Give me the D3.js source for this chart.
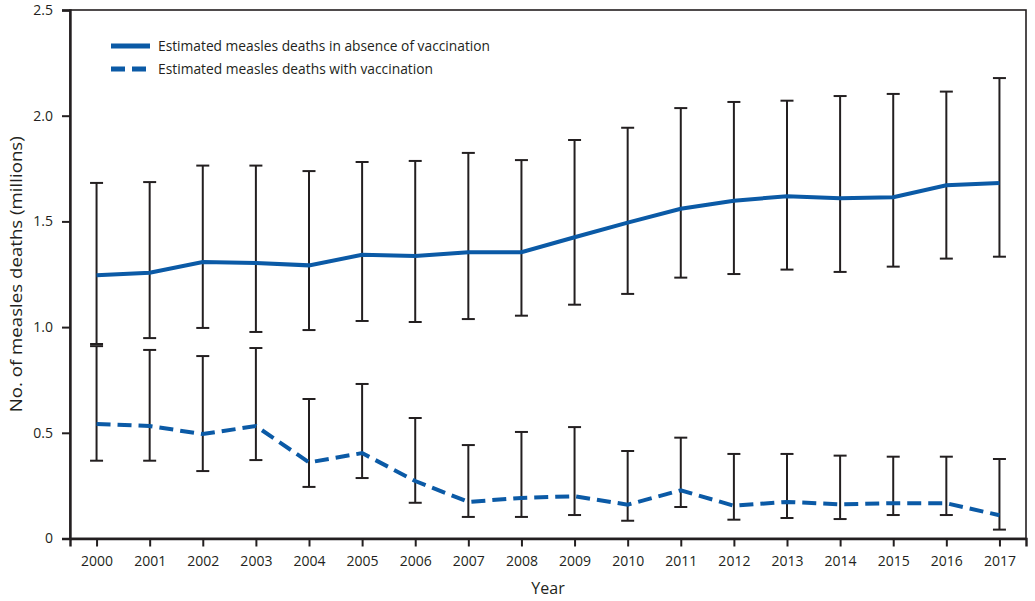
<!DOCTYPE html>
<html><head><meta charset="utf-8">
<script src="https://cdn.jsdelivr.net/npm/d3@7"></script>
<style>body{margin:0;background:#fff}svg{display:block}text{font-family:"Open Sans",sans-serif;fill:#231f20}</style>
</head><body><svg id="c" width="1035" height="601"></svg>
<script>
const years = [2000,2001,2002,2003,2004,2005,2006,2007,2008,2009,2010,2011,2012,2013,2014,2015,2016,2017];
const absence = [1.245,1.257,1.308,1.303,1.292,1.342,1.336,1.354,1.354,1.425,1.494,1.560,1.598,1.619,1.609,1.614,1.671,1.682];
const absenceHigh = [1.682,1.686,1.764,1.764,1.738,1.781,1.786,1.824,1.790,1.885,1.943,2.036,2.065,2.071,2.093,2.103,2.114,2.178];
const absenceLow = [0.920,0.948,0.996,0.977,0.986,1.029,1.024,1.038,1.054,1.106,1.157,1.234,1.251,1.272,1.261,1.286,1.324,1.333];
const withVacc = [0.542,0.532,0.494,0.532,0.360,0.404,0.272,0.173,0.192,0.200,0.160,0.228,0.155,0.173,0.162,0.167,0.167,0.110];
const withHigh = [0.910,0.892,0.863,0.901,0.660,0.731,0.570,0.442,0.504,0.527,0.414,0.477,0.400,0.400,0.392,0.387,0.387,0.376];
const withLow = [0.368,0.368,0.319,0.371,0.244,0.286,0.169,0.102,0.102,0.111,0.084,0.149,0.089,0.097,0.092,0.111,0.111,0.042];
const yTicks = [0,0.5,1.0,1.5,2.0,2.5];
const legendLabels = ["Estimated measles deaths in absence of vaccination","Estimated measles deaths with vaccination"];

const svg = d3.select("#c");
const L=70,R=1026,T=10,B=538.5;
const x = d3.scaleLinear().domain([1999.5,2017.5]).range([L,R]);
const y = d3.scaleLinear().domain([0,2.5]).range([B,T]);
const blue="#0b5aa6", ink="#231f20";

// frame
svg.append("rect").attr("x",L).attr("y",T).attr("width",R-L).attr("height",B-T)
  .attr("fill","none").attr("stroke",ink).attr("stroke-width",1.6);

// y axis
const ya = svg.append("g").attr("transform",`translate(${L},0)`)
  .call(d3.axisLeft(y).tickValues(yTicks).tickSize(8).tickPadding(9)
    .tickFormat(d=>d===0?"0":d3.format(".1f")(d)));
ya.select(".domain").attr("stroke",ink).attr("stroke-width",2.4);
ya.selectAll(".tick line").attr("stroke",ink).attr("stroke-width",2);
ya.selectAll("text").style("font-size","14px").attr("fill",ink).attr("font-family","Open Sans");

// x axis
const xa = svg.append("g").attr("transform",`translate(0,${B})`)
  .call(d3.axisBottom(x).tickValues(years).tickSize(8).tickPadding(10).tickFormat(d3.format("d")));
xa.select(".domain").attr("stroke",ink).attr("stroke-width",2.4);
xa.selectAll(".tick line").attr("stroke",ink).attr("stroke-width",2);
xa.selectAll("text").style("font-size","14px").attr("fill",ink).attr("font-family","Open Sans");

// error bars
function errBars(lo,hi){
  const g=svg.append("g").attr("stroke",ink).attr("stroke-width",2);
  years.forEach((yr,i)=>{
    const cx=x(yr);
    g.append("line").attr("x1",cx).attr("x2",cx).attr("y1",y(lo[i])).attr("y2",y(hi[i]));
    g.append("line").attr("x1",cx-6.5).attr("x2",cx+6.5).attr("y1",y(lo[i])).attr("y2",y(lo[i]));
    g.append("line").attr("x1",cx-6.5).attr("x2",cx+6.5).attr("y1",y(hi[i])).attr("y2",y(hi[i]));
  });
}
errBars(absenceLow,absenceHigh);
errBars(withLow,withHigh);

const line=d3.line().x((d,i)=>x(years[i])).y(d=>y(d));
svg.append("path").datum(absence).attr("d",line).attr("fill","none").attr("stroke",blue).attr("stroke-width",4);
svg.append("path").datum(withVacc).attr("d",line).attr("fill","none").attr("stroke",blue).attr("stroke-width",4).attr("stroke-dasharray","14,7");

// legend
const lg=svg.append("g");
legendLabels.forEach((t,i)=>{
  const ly=46+i*23;
  lg.append("line").attr("x1",111).attr("x2",150).attr("y1",ly).attr("y2",ly).attr("stroke",blue).attr("stroke-width",5)
    .attr("stroke-dasharray",i===1?"14,7":null);
  lg.append("text").attr("x",158).attr("y",ly+5).style("font-size","14px").attr("textLength",i===0?332:275).attr("lengthAdjust","spacingAndGlyphs").text(t);
});

// axis titles
svg.append("text").attr("x",(L+R)/2).attr("y",594).attr("text-anchor","middle").style("font-size","16px").text("Year");
svg.append("text").attr("transform",`translate(22,${(T+B)/2}) rotate(-90)`).attr("text-anchor","middle").style("font-size","16px").attr("textLength",276).attr("lengthAdjust","spacingAndGlyphs").text("No. of measles deaths (millions)");
</script></body></html>
